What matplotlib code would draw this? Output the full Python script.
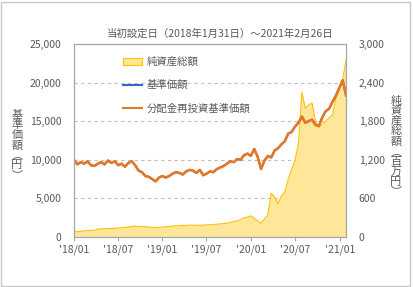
import numpy as np
import pandas as pd
import matplotlib
matplotlib.use('Agg')
import matplotlib.pyplot as plt
from matplotlib.patches import Patch, Rectangle
from matplotlib.lines import Line2D

plt.rcParams['font.family'] = ['Noto Sans CJK JP', 'DejaVu Sans']

# roughly semi-monthly points from launch to 2021-02-26
dates = pd.date_range('2018-01-31', '2021-02-26', periods=81)

nav = [10000, 9400, 9700, 9500, 9800, 9300, 9200, 9500, 9700, 9400,
       9900, 9600, 9800, 9300, 9500, 9100, 9600, 9800, 9300, 8600,
       8400, 7900, 7800, 7500, 7200, 7700, 7900, 7700, 7900, 8200,
       8400, 8300, 8100, 8500, 8700, 8600, 8300, 8700, 8000, 8200,
       8500, 8400, 8800, 9000, 9200, 9500, 9800, 9700, 10100, 10000,
       10600, 10800, 10500, 11400, 10400, 8800, 9900, 10500, 10300, 11200,
       11500, 12000, 12400, 13400, 13600, 14300, 14800, 15600, 14800, 15000,
       15200, 14500, 14400, 15500, 16300, 16600, 17500, 18300, 19300, 20300,
       18300]

aum = [80, 85, 90, 95, 100, 105, 105, 125, 125, 130,
       130, 135, 135, 140, 145, 150, 155, 165, 170, 160,
       165, 160, 155, 150, 145, 150, 155, 160, 165, 170,
       175, 175, 180, 180, 185, 185, 180, 185, 185, 190,
       190, 195, 200, 205, 210, 215, 225, 240, 255, 270,
       300, 310, 330, 290, 250, 215, 280, 350, 680, 620,
       520, 640, 700, 900, 1050, 1200, 1450, 2250, 2000, 2050,
       2080, 1800, 1700, 1750, 1800, 1850, 1900, 2150, 2300, 2450,
       2750]

tick_dates = pd.to_datetime(['2018-01-31', '2018-07-31', '2019-01-31', '2019-07-31',
                             '2020-01-31', '2020-07-31', '2021-01-31'])
tick_labels = ["'18/01", "'18/07", "'19/01", "'19/07", "'20/01", "'20/07", "'21/01"]

txt = '#595959'
fig = plt.figure(figsize=(4.13, 2.87), dpi=100)
fig.patches.append(Rectangle((0.003, 0.004), 0.99, 0.99, transform=fig.transFigure,
                             fill=False, edgecolor='#c8c8c8', lw=1))
ax = fig.add_axes([0.179, 0.174, 0.659, 0.673])
ax2 = ax.twinx()

# net assets on the right axis, drawn first so the lines sit on top
ax.fill_between(dates, aum, color='#ffe699', lw=0)
ax.plot(dates, aum, color='#ffc000', lw=0.8)
ax.set_ylim(0, 3000)
ax.set_yticks(np.arange(0, 3001, 600))
ax.set_yticklabels([f'{v:,}' for v in range(0, 3001, 600)])
ax.grid(axis='y', color='#bfbfbf', ls=(0, (3, 3)), lw=0.8)
ax.set_axisbelow(True)

ax2.plot(dates, nav, color='#3366cc', lw=1.5)
ax2.plot(dates, nav, color='#e87722', lw=1.8)
ax2.set_ylim(0, 25000)
ax2.set_yticks(np.arange(0, 25001, 5000))
ax2.set_yticklabels([f'{v:,}' for v in range(0, 25001, 5000)])

ax.yaxis.tick_right()
ax2.yaxis.tick_left()

ax.set_xlim(dates[0], dates[-1])
ax.set_xticks(tick_dates)
ax.set_xticklabels(tick_labels)

for a in (ax, ax2):
    for s in a.spines.values():
        s.set_color('#a6a6a6')
    a.tick_params(colors=txt, labelsize=7.5)
    a.tick_params(axis='y', length=0, pad=9)
ax.tick_params(axis='x', length=3, pad=2, color='#a6a6a6')

fig.text(220 / 413, 1 - 34 / 287, '当初設定日（2018年1月31日）～2021年2月26日',
         ha='center', va='center', fontsize=7.5, color=txt)
fig.text(17 / 413, 1 - 145 / 287, '基\n準\n価\n額\n︵\n円\n︶',
         ha='center', va='center', fontsize=8, color=txt, linespacing=1.0)
fig.text(396 / 413, 1 - 146 / 287, '純\n資\n産\n総\n額\n︵\n百\n万\n円\n︶',
         ha='center', va='center', fontsize=8, color=txt, linespacing=1.0)

handles = [Patch(facecolor='#ffe699', edgecolor='#ffc000', lw=0.8),
           Line2D([], [], color='#3366cc', lw=1.5),
           Line2D([], [], color='#e87722', lw=1.5)]
ax2.legend(handles, ['純資産総額', '基準価額', '分配金再投資基準価額'],
           loc='upper left', bbox_to_anchor=(0.16, 0.96), frameon=False,
           fontsize=7.5, labelspacing=1.25, handlelength=1.9, handletextpad=0.4,
           borderpad=0, labelcolor=txt)

fig.savefig('out.png', dpi=100)
